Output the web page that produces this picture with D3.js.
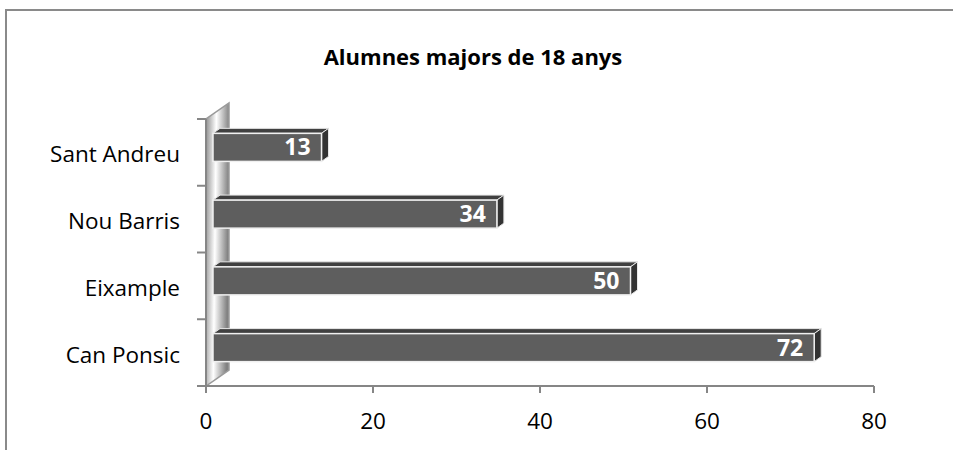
<!DOCTYPE html>
<html>
<head>
<meta charset="utf-8">
<script src="https://cdn.jsdelivr.net/npm/d3@7"></script>
<style>
    body { margin: 0; background: #fff; }
    text { font-family: "Open Sans", Lato, sans-serif; }
</style>
</head>
<body>
<div id="chart"></div>
<script>
var categories = ['Can Ponsic', 'Eixample', 'Nou Barris', 'Sant Andreu'];
var values = [72, 50, 34, 13];
var xTicks = [0, 20, 40, 60, 80];
var title = 'Alumnes majors de 18 anys';

var width = 953;
var height = 450;
var plot = { left: 206, right: 874, top: 119, bottom: 386 };
// 3D depth of the whole box and of the bars (front / back offsets)
var depth = { dx: 23, dy: -16 };
var barFront = { dx: 7, dy: -5 };
var barBack = { dx: 14, dy: -10 };

var svg = d3.select('#chart')
    .append('svg')
    .attr('width', width)
    .attr('height', height);

var defs = svg.append('defs');

var wallGrad = defs.append('linearGradient')
    .attr('id', 'wallGrad')
    .attr('x1', '0').attr('y1', '0')
    .attr('x2', '1').attr('y2', '0.15');
wallGrad.append('stop').attr('offset', '0%').attr('stop-color', '#8f8f8f');
wallGrad.append('stop').attr('offset', '45%').attr('stop-color', '#ffffff');
wallGrad.append('stop').attr('offset', '100%').attr('stop-color', '#828282');

// outer frame (cut by the window on the right and bottom)
svg.append('path')
    .attr('d', 'M6,' + height + ' V10 H' + width)
    .attr('fill', 'none')
    .attr('stroke', '#8a8a8a')
    .attr('stroke-width', 2);

var x = d3.scaleLinear()
    .domain([0, 80])
    .range([plot.left, plot.right]);

var y = d3.scaleBand()
    .domain(categories)
    .range([plot.bottom, plot.top]);

// side wall
svg.append('path')
    .attr('d', d3.line()([
        [plot.left, plot.bottom],
        [plot.left, plot.top],
        [plot.left + depth.dx, plot.top + depth.dy],
        [plot.left + depth.dx, plot.bottom + depth.dy]
    ]) + 'Z')
    .attr('fill', 'url(#wallGrad)')
    .attr('stroke', '#9a9a9a')
    .attr('stroke-width', 1.5);

// category axis
svg.append('line')
    .attr('x1', plot.left).attr('x2', plot.left)
    .attr('y1', plot.top).attr('y2', plot.bottom)
    .attr('stroke', '#868686')
    .attr('stroke-width', 2);

var bandEdges = categories.map(function (c) { return y(c); }).concat([plot.bottom]);
svg.append('g')
    .selectAll('line')
    .data(bandEdges)
    .join('line')
    .attr('x1', plot.left - 9).attr('x2', plot.left)
    .attr('y1', function (d) { return d; })
    .attr('y2', function (d) { return d; })
    .attr('stroke', '#868686')
    .attr('stroke-width', 2);

svg.append('g')
    .selectAll('text')
    .data(categories)
    .join('text')
    .attr('x', 180)
    .attr('y', function (d) { return y(d) + y.bandwidth() / 2 + 10; })
    .attr('text-anchor', 'end')
    .attr('font-size', 22.5)
    .attr('fill', '#000')
    .text(function (d) { return d; });

// value axis
svg.append('line')
    .attr('x1', plot.left).attr('x2', plot.right)
    .attr('y1', plot.bottom).attr('y2', plot.bottom)
    .attr('stroke', '#868686')
    .attr('stroke-width', 2);

svg.append('g')
    .selectAll('line')
    .data(xTicks)
    .join('line')
    .attr('x1', function (d) { return x(d); })
    .attr('x2', function (d) { return x(d); })
    .attr('y1', plot.bottom)
    .attr('y2', plot.bottom + 7)
    .attr('stroke', '#868686')
    .attr('stroke-width', 2);

svg.append('g')
    .selectAll('text')
    .data(xTicks)
    .join('text')
    .attr('x', function (d) { return x(d); })
    .attr('y', 429)
    .attr('text-anchor', 'middle')
    .attr('font-size', 22.5)
    .attr('fill', '#000')
    .text(function (d) { return d; });

// bars
var barH = y.bandwidth() * 0.42;
var bars = svg.append('g')
    .selectAll('g')
    .data(categories.map(function (c, i) { return { cat: c, value: values[i] }; }))
    .join('g');

function pts(arr) {
    return d3.line()(arr) + 'Z';
}

bars.each(function (d) {
    var g = d3.select(this);
    var x0 = x(0) + barFront.dx;
    var x1 = x(d.value) + barFront.dx;
    var yc = y(d.cat) + y.bandwidth() / 2 + barFront.dy;
    var y0 = yc - barH / 2;
    var y1 = yc + barH / 2;
    var ddx = barBack.dx - barFront.dx;
    var ddy = barBack.dy - barFront.dy;

    // top face
    g.append('path')
        .attr('d', pts([[x0, y0], [x0 + ddx, y0 + ddy], [x1 + ddx, y0 + ddy], [x1, y0]]))
        .attr('fill', '#404040')
        .attr('stroke', '#e8e8e8')
        .attr('stroke-width', 1);
    // side face
    g.append('path')
        .attr('d', pts([[x1, y0], [x1 + ddx, y0 + ddy], [x1 + ddx, y1 + ddy], [x1, y1]]))
        .attr('fill', '#333333')
        .attr('stroke', '#e8e8e8')
        .attr('stroke-width', 1);
    // front face
    g.append('rect')
        .attr('x', x0)
        .attr('y', y0)
        .attr('width', x1 - x0)
        .attr('height', barH)
        .attr('fill', '#5e5e5e')
        .attr('stroke', '#f0f0f0')
        .attr('stroke-width', 1.5);

    g.append('text')
        .attr('x', x1 - 11)
        .attr('y', yc + 8)
        .attr('text-anchor', 'end')
        .attr('font-size', 23)
        .attr('font-weight', 'bold')
        .attr('fill', '#fff')
        .text(d.value);
});

// title
svg.append('text')
    .attr('x', 473)
    .attr('y', 65)
    .attr('text-anchor', 'middle')
    .attr('font-size', 22)
    .attr('font-weight', 'bold')
    .attr('fill', '#000')
    .text(title);
</script>
</body>
</html>
